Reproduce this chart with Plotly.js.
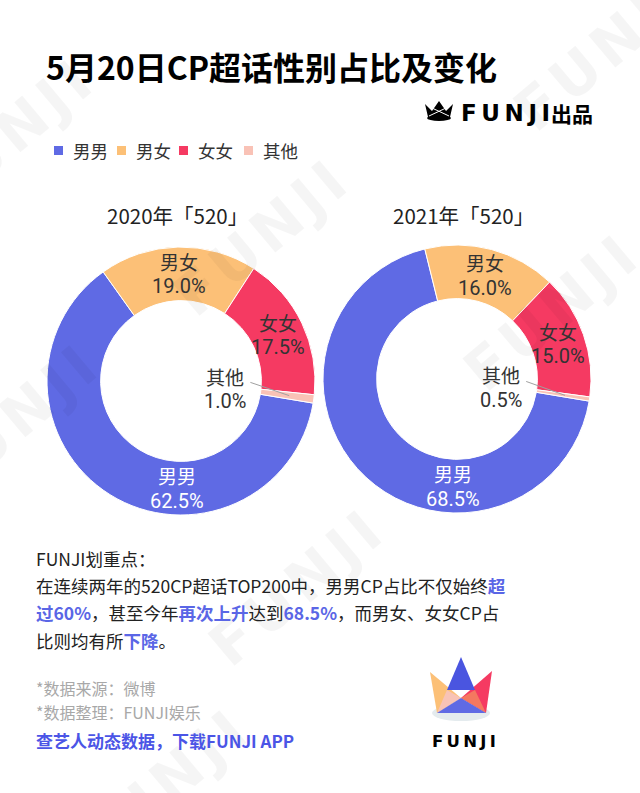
<!DOCTYPE html>
<html><head><meta charset="utf-8">
<script src="https://cdn.plot.ly/plotly-3.0.1.min.js"></script>
<style>html,body{margin:0;padding:0;background:#fff;} #chart{width:640px;height:793px;}</style>
</head><body><div id="chart"></div>
<script>
// ---- data ----
const categories = ['男男', '男女', '女女', '其他'];
const values2020 = [62.5, 19.0, 17.5, 1.0];
const values2021 = [68.5, 16.0, 15.0, 0.5];
const yearTitles = ['2020年「520」', '2021年「520」'];
const colors = ['#5f6ae4', '#fcc077', '#f53a62', '#f9c2b6'];
const titleText = '5月20日CP超话性别占比及变化';
const noteTitle = 'FUNJI划重点：';
const noteLines = [
  '在连续两年的520CP超话TOP200中，男男CP占比不仅始终{超}',
  '{过60%}，甚至今年{再次上升}达到{68.5%}，而男女、女女CP占',
  '比则均有所{下降}。'
];
const sourceLines = ['*数据来源：微博', '*数据整理：FUNJI娱乐'];
const linkText = '查艺人动态数据，下载FUNJI APP';

// ---- layout helpers ----
const W = 640, H = 793;
const FONT = '"Noto Sans CJK SC","Noto Sans",sans-serif';
const NUMFONT = 'Roboto,"Noto Sans",sans-serif';
const px = x => x / W, py = y => 1 - y / H;
const ROT = 99.5, HOLE = 0.6;
const pies = [
  {values: values2020, title: yearTitles[0], cx: 181, cy: 381, r: 134, tx: 177},
  {values: values2021, title: yearTitles[1], cx: 457, cy: 379, r: 134, tx: 463}
];

const data = pies.map(p => ({
  type: 'pie', labels: categories, values: p.values, sort: false,
  direction: 'clockwise', rotation: ROT, hole: HOLE,
  marker: {colors: colors, line: {color: '#ffffff', width: 1}},
  textinfo: 'none', hoverinfo: 'none', showlegend: false,
  domain: {x: [px(p.cx - p.r), px(p.cx + p.r)], y: [py(p.cy + p.r), py(p.cy - p.r)]}
}));

const ann = [];
const shapes = [];
function A(x, y, text, opts) {
  ann.push(Object.assign({xref: 'paper', yref: 'paper', x: px(x), y: py(y), text: text,
    showarrow: false, xanchor: 'left', yanchor: 'middle',
    font: {family: FONT, size: 16, color: '#222'}}, opts || {}));
}
function label2(x, y, name, pct, color) {
  A(x, y - 12.5, name, {xanchor: 'center', font: {family: FONT, size: 19, color: color}});
  A(x, y + 12.5, pct, {xanchor: 'center', font: {family: NUMFONT, size: 20, color: color}});
}
function path(pts) {
  return 'M' + pts.map(q => px(q[0]) + ',' + py(q[1])).join('L') + 'Z';
}
function poly(pts, color, line) {
  shapes.push({type: 'path', xref: 'paper', yref: 'paper', path: path(pts), fillcolor: color,
    line: line || {width: 0}, layer: 'above'});
}

// faint background watermark (decorative image)
const wmPos = [[605, 55], [10, 140], [265, 240], [555, 315], [300, 590], [165, 790], [15, 425]];
let svg = '<svg xmlns="http://www.w3.org/2000/svg" width="640" height="793" viewBox="0 0 640 793">';
wmPos.forEach(w => {
  svg += '<text x="' + w[0] + '" y="' + w[1] + '" text-anchor="middle" dominant-baseline="middle" ' +
    'transform="rotate(-40 ' + w[0] + ' ' + w[1] + ')" font-family="DejaVu Sans" font-weight="bold" ' +
    'font-size="58" letter-spacing="6" fill="#000" fill-opacity="0.04">FUNJI</text>';
});
svg += '</svg>';
const images = [{source: 'data:image/svg+xml;charset=utf-8,' + encodeURIComponent(svg),
  xref: 'paper', yref: 'paper', x: 0, y: 1, sizex: 1, sizey: 1, xanchor: 'left', yanchor: 'top',
  sizing: 'stretch', layer: 'above'}];

// title
A(44, 66, '<b>' + titleText + '</b>', {font: {family: FONT, size: 32, color: '#000'}});

// top logo
poly([[425, 104], [432, 111], [439, 101], [446, 111], [453, 104], [450, 117], [428, 117]], '#000');
shapes.push({type: 'circle', xref: 'paper', yref: 'paper', x0: px(427), x1: px(451), y0: py(115), y1: py(121), fillcolor: '#000', line: {width: 0}, layer: 'above'});
shapes.push({type: 'line', xref: 'paper', yref: 'paper', x0: px(429), y0: py(116), x1: px(446), y1: py(108), line: {color: '#fff', width: 1}, layer: 'above'});
shapes.push({type: 'line', xref: 'paper', yref: 'paper', x0: px(449), y0: py(116), x1: px(432), y1: py(108), line: {color: '#fff', width: 1}, layer: 'above'});
A(459, 113, '<b>F\u2009U\u2009N\u2009J\u2009I</b>', {font: {family: '"DejaVu Sans",sans-serif', size: 23, color: '#000'}});
A(549, 113, '<b>出品</b>', {font: {family: FONT, size: 21, color: '#000'}});

// legend
const legX = [54, 117, 179, 244];
categories.forEach((c, i) => {
  shapes.push({type: 'rect', xref: 'paper', yref: 'paper', x0: px(legX[i]), x1: px(legX[i] + 9),
    y0: py(155), y1: py(146), fillcolor: colors[i], line: {width: 0}});
  A(legX[i] + 17, 150, c, {font: {family: FONT, size: 17.5, color: '#333'}});
});

// pie titles and labels
pies.forEach(p => {
  A(p.tx, 215, p.title, {xanchor: 'center', font: {family: FONT, size: 20.5, color: '#222'}});
  const tot = p.values.reduce((a, b) => a + b, 0);
  let start = ROT;
  p.values.forEach((v, i) => {
    const sweep = v / tot * 360;
    const mid = start + sweep / 2;
    start += sweep;
    const pct = v.toFixed(1) + '%';
    const rMid = p.r * (1 + HOLE) / 2;
    if (i === 3) {
      const a = mid * Math.PI / 180;
      const sx = p.cx + 70 * Math.sin(a), sy = p.cy - 70 * Math.cos(a);
      const ex = p.cx + (rMid + 2) * Math.sin(a), ey = p.cy - (rMid + 2) * Math.cos(a);
      shapes.push({type: 'line', xref: 'paper', yref: 'paper', x0: px(sx), y0: py(sy - 8), x1: px(ex), y1: py(ey),
        line: {color: '#a0a0a0', width: 1}, layer: 'above'});
      label2(p.cx + 44, p.cy + 8, categories[i], pct, '#333');
    } else {
      const ang = (i === 0 ? 182 : mid) * Math.PI / 180;
      const x = p.cx + rMid * Math.sin(ang), y = p.cy - rMid * Math.cos(ang);
      label2(x, y, categories[i], pct, i === 0 ? '#fff' : '#333');
    }
  });
});

// notes
const HL = '#5a66e6';
A(34, 558, noteTitle, {font: {family: FONT, size: 17.5, color: '#222'}});
noteLines.forEach((l, i) => {
  const t = l.replace(/\{([^}]*)\}/g, '<b><span style="color:' + HL + '">$1</span></b>');
  A(34, 585 + i * 27.5, t, {font: {family: FONT, size: 17.5, color: '#222'}});
});
sourceLines.forEach((l, i) => A(34, 688 + i * 24, l, {font: {family: FONT, size: 16, color: '#a8a8a8'}}));
A(34, 740, '<b>' + linkText + '</b>', {font: {family: FONT, size: 17, color: '#4b55e6'}});

// bottom logo
shapes.push({type: 'circle', xref: 'paper', yref: 'paper', x0: px(432), x1: px(490), y0: py(721), y1: py(705), fillcolor: '#e4ebee', line: {width: 0}, layer: 'above'});
poly([[430, 672], [461, 698], [437, 713]], '#fcc077');
poly([[492, 671], [461, 698], [486, 713]], '#f53a62');
poly([[461, 657], [447, 690], [475, 690]], '#4a55e0');
poly([[447, 690], [461, 698], [437, 713]], '#f8c3b6');
poly([[475, 690], [461, 698], [486, 713]], '#f47860');
poly([[437, 713], [461, 698], [486, 713]], '#5f6ae4');
A(430, 741, '<b>F\u2009U\u2009N\u2009J\u2009I</b>', {font: {family: '"DejaVu Sans",sans-serif', size: 16.5, color: '#000'}});

const layout = {
  width: W, height: H, margin: {l: 0, r: 0, t: 0, b: 0},
  paper_bgcolor: '#fff', plot_bgcolor: '#fff',
  showlegend: false, annotations: ann, shapes: shapes, images: images
};
Plotly.newPlot('chart', data, layout, {displayModeBar: false, staticPlot: true});
</script></body></html>
